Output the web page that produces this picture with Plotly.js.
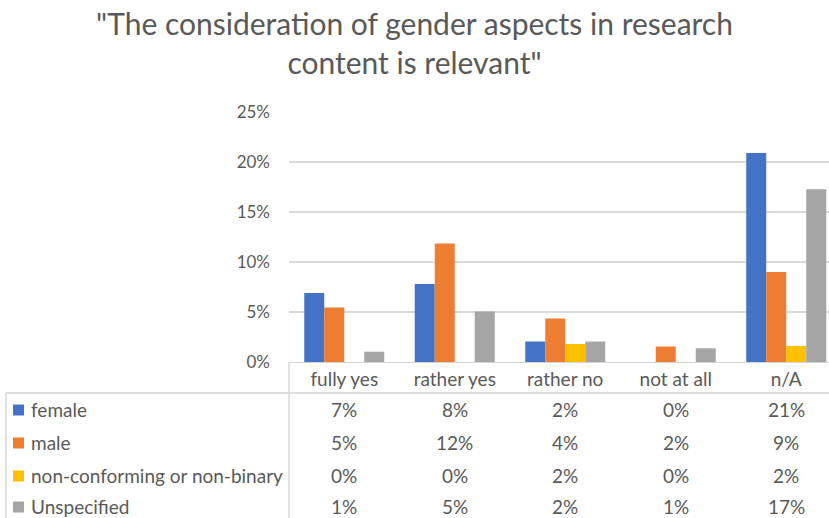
<!DOCTYPE html>
<html>
<head>
<meta charset="utf-8">
<script src="https://cdn.plot.ly/plotly-3.0.1.min.js"></script>
<style>html,body{margin:0;padding:0;overflow:hidden;background:#fff}#chart{width:829px;height:518px}</style>
</head>
<body>
<div id="chart"></div>
<script>
var categories = ["fully yes", "rather yes", "rather no", "not at all", "n/A"];
var seriesNames = ["female", "male", "non-conforming or non-binary", "Unspecified"];
var female = [6.9, 7.8, 2.05, 0, 20.9];
var male = [5.45, 11.85, 4.35, 1.55, 9.0];
var nonBinary = [0, 0, 1.8, 0, 1.6];
var unspecified = [1.03, 5.05, 2.05, 1.37, 17.27];
var colors = ["#4472C4", "#ED7D31", "#FFC000", "#A5A5A5"];
var yTicks = [0, 5, 10, 15, 20, 25];
var yTickLabels = ["0%", "5%", "10%", "15%", "20%", "25%"];

var allSeries = [female, male, nonBinary, unspecified];
var FONT = "Lato, 'Open Sans', sans-serif";
var TXT = "#595959";
var W = 829, H = 518;
var mL = 289, mR = 0, mT = 112, mB = 156;
var plotW = W - mL - mR, plotH = H - mT - mB;
function px2x(px) { return (px - mL) / plotW; }
function px2y(py) { return (H - mB - py) / plotH; }

var traces = allSeries.map(function (vals, i) {
  return {
    type: "bar", x: categories, y: vals, name: seriesNames[i],
    marker: { color: colors[i] }, hoverinfo: "skip", showlegend: false
  };
});

var annotations = [];
var shapes = [];
var rowY = [409, 442, 475, 506];
allSeries.forEach(function (vals, i) {
  annotations.push({
    xref: "paper", yref: "paper", x: px2x(29), y: px2y(rowY[i]),
    xanchor: "left", yanchor: "middle", showarrow: false,
    text: seriesNames[i], font: { family: FONT, size: 19, color: TXT }
  });
  shapes.push({
    type: "rect", xref: "paper", yref: "paper",
    x0: px2x(13), x1: px2x(24), y0: px2y(rowY[i] + 6.5), y1: px2y(rowY[i] - 4.5),
    fillcolor: colors[i], line: { width: 0 }
  });
  vals.forEach(function (v, j) {
    annotations.push({
      xref: "x", yref: "paper", x: categories[j], y: px2y(rowY[i]),
      xanchor: "center", yanchor: "middle", showarrow: false,
      text: Math.round(v) + "%", font: { family: FONT, size: 19, color: TXT }
    });
  });
});

var LC = "#d4d4d4";
shapes.push({ type: "line", xref: "paper", yref: "paper", x0: px2x(6), x1: 1, y0: px2y(393), y1: px2y(393), line: { color: LC, width: 1.3 } });
shapes.push({ type: "line", xref: "paper", yref: "paper", x0: 0, x1: 0, y0: 0, y1: px2y(H + 2), line: { color: LC, width: 1.3 } });
shapes.push({ type: "line", xref: "paper", yref: "paper", x0: px2x(6), x1: px2x(6), y0: px2y(393), y1: px2y(H + 2), line: { color: LC, width: 1.3 } });

var layout = {
  width: W, height: H,
  margin: { l: mL, r: mR, t: mT, b: mB, pad: 0 },
  paper_bgcolor: "#fff", plot_bgcolor: "#fff",
  barmode: "group", bargap: 0.276, bargroupgap: 0,
  title: {
    text: "\"The consideration of gender aspects in research<br>content is relevant\"",
    font: { family: FONT, size: 30, color: TXT },
    x: 0.5, xref: "container", xanchor: "center",
    y: 0.932, yref: "container", yanchor: "top"
  },
  xaxis: {
    type: "category", range: [-0.5, 4.387], fixedrange: true,
    showgrid: false, zeroline: false, showline: true, linecolor: LC, linewidth: 1.3,
    ticks: "", ticklabelstandoff: 0,
    tickfont: { family: FONT, size: 19, color: TXT }
  },
  yaxis: {
    range: [0, 25], tickvals: yTicks, ticktext: yTickLabels, fixedrange: true,
    showgrid: true, gridcolor: "#d9d9d9", gridwidth: 1.3, zeroline: false, showline: false,
    ticks: "", ticklabelstandoff: 18,
    tickfont: { family: FONT, size: 17, color: TXT }
  },
  annotations: annotations,
  shapes: shapes
};

Plotly.newPlot("chart", traces, layout, { displayModeBar: false, staticPlot: true });
</script>
</body>
</html>
